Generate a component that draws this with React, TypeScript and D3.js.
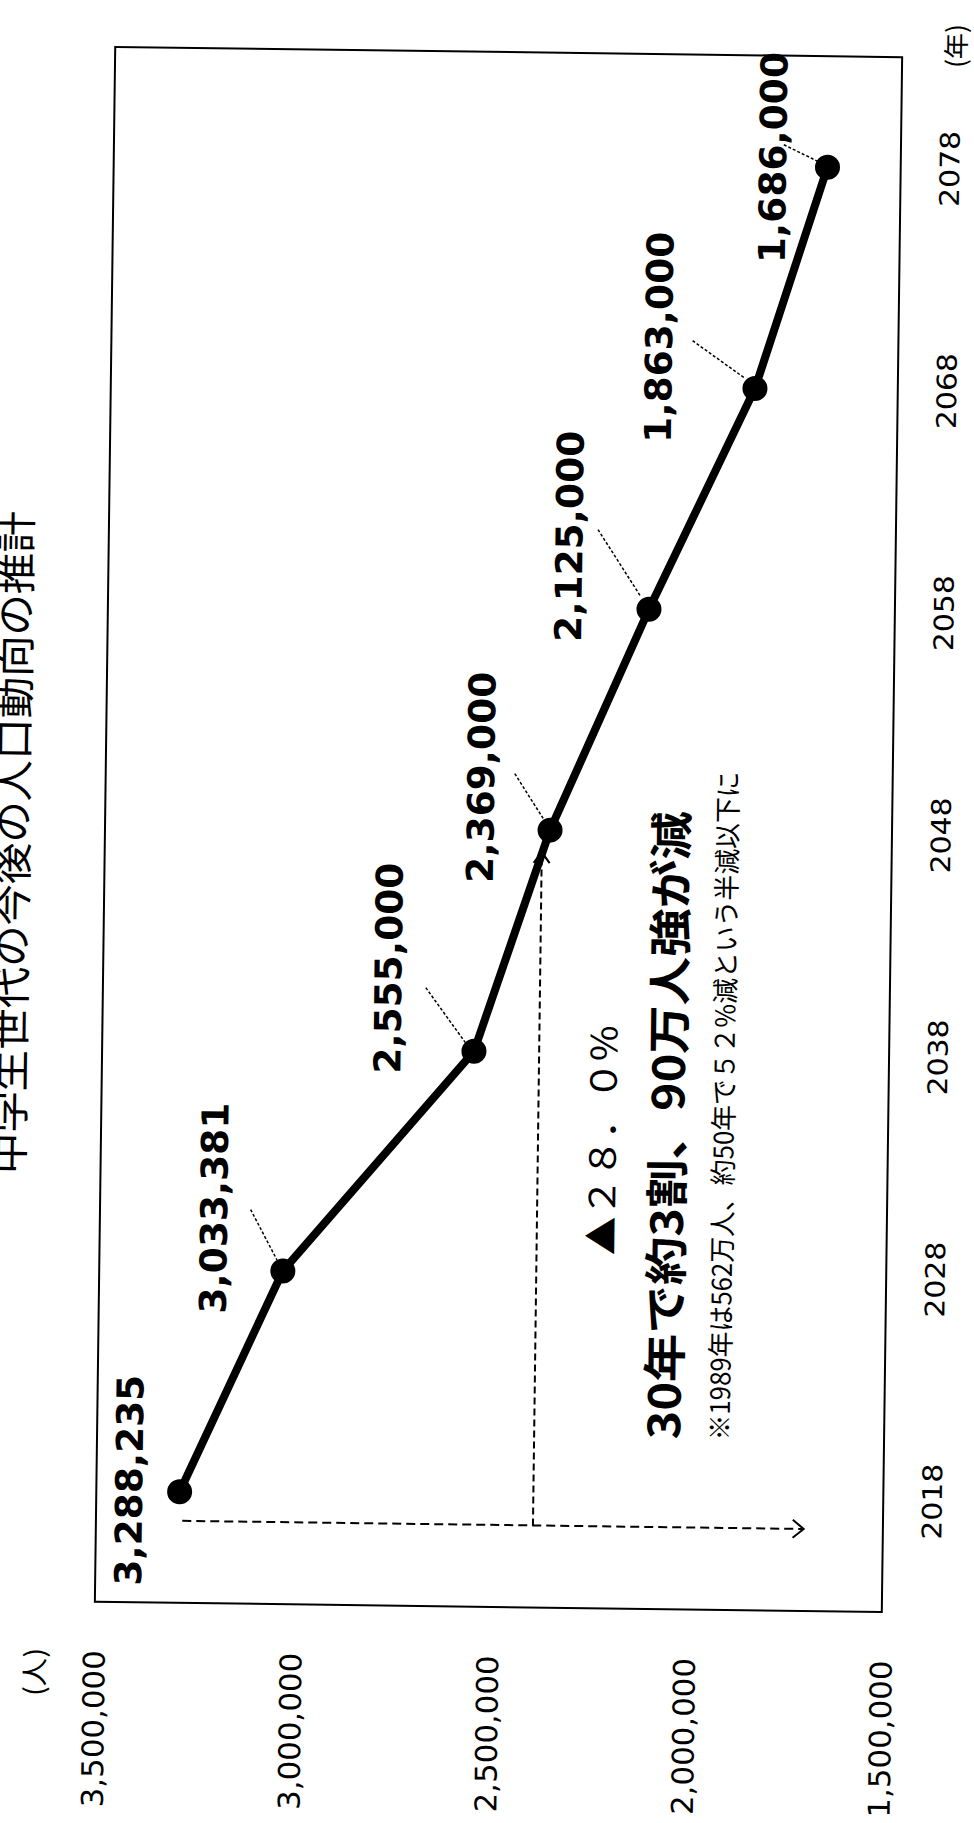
import React from "react";
import * as d3 from "d3";

const years = [2018, 2028, 2038, 2048, 2058, 2068, 2078];
const values = [3288235, 3033381, 2555000, 2369000, 2125000, 1863000, 1686000];
const valueLabels = ["3,288,235", "3,033,381", "2,555,000", "2,369,000", "2,125,000", "1,863,000", "1,686,000"];
const valueTicks = [3500000, 3000000, 2500000, 2000000, 1500000];
const titleText = "中学生世代の今後の人口動向の推計";
const yUnit = "(人)";
const xUnit = "(年)";
const noteRate = "▲２８．０%";
const noteMain = "30年で約3割、90万人強が減";
const noteSub = "※1989年は562万人、約50年で５２%減という半減以下に";

// layout: label centre offsets from each point, and leader line offsets [x1,y1,x2,y2]
const labelOffsets = [[-50, -11], [-69, -62], [-86, -82], [-69, -52], [-80, -72], [-96, -50], [-54, -9]];
const leaderOffsets = [null, [-33, -61, -6, -11], [-49, -63, -9, -9], [-36, -56, -6, -10], [-52, -79, -8, -12], [-63, -47, -10, -10], [-44, -22, -8, -5]];

const W = 974;
const H = 1823;
const frame = { left: 105, right: 892, top: 52, bottom: 1607 };
const jp = "'Noto Sans CJK JP', sans-serif";
const latin = "'DejaVu Sans', Verdana, sans-serif";

function VText({ x, y, size, weight = 400, family, len, children }: any) {
  return (
    <text
      transform={`translate(${x},${y}) rotate(-90)`}
      textAnchor="middle"
      dominantBaseline="central"
      fontSize={size}
      fontWeight={weight}
      fontFamily={family}
      textLength={len}
      lengthAdjust={len ? "spacingAndGlyphs" : undefined}
      fill="#000"
    >
      {children}
    </text>
  );
}

export default function App() {
  const xScale = d3.scaleLinear().domain([3500000, 1500000]).range([frame.left, frame.right]);
  const yScale = d3.scalePoint<number>().domain(years).range([frame.bottom, frame.top]).padding(0.5);
  const pts = years.map((yr, i) => ({ x: xScale(values[i]), y: yScale(yr) as number }));
  const line = d3
    .line<{ x: number; y: number }>()
    .x((d) => d.x)
    .y((d) => d.y);

  const hy = (yScale(years[0]) as number) + 29;
  const hx1 = xScale(values[0]) + 3;
  const hx2 = xScale(values[values.length - 1]) - 6;
  const vx = xScale(values[3]) - 8;
  const vy2 = (yScale(years[3]) as number) + 22;

  return (
    <svg
      width={W}
      height={H}
      viewBox={`0 0 ${W} ${H}`}
      style={{ position: "absolute", left: 0, top: 0, background: "#fff" }}
    >
      <rect x={0} y={0} width={W} height={H} fill="#fff" />
      <g transform="rotate(0.75, 500, 830)">
        {/* title, partly cut at the left edge as in the scan */}
        <VText x={10} y={849} size={41} family={jp} len={663}>
          {titleText}
        </VText>

        {/* frame */}
        <rect
          x={frame.left}
          y={frame.top}
          width={frame.right - frame.left}
          height={frame.bottom - frame.top}
          fill="none"
          stroke="#000"
          strokeWidth={2}
        />

        {/* value axis tick labels */}
        {valueTicks.map((v) => (
          <VText key={v} x={xScale(v)} y={1734} size={30} family={latin} len={157}>
            {d3.format(",")(v)}
          </VText>
        ))}
        <VText x={44} y={1678} size={27} family={jp} len={48}>
          {yUnit}
        </VText>

        {/* year labels */}
        {years.map((yr) => (
          <VText key={yr} x={941} y={yScale(yr) as number} size={27} family={latin} len={76}>
            {String(yr)}
          </VText>
        ))}
        <VText x={944} y={40} size={26} family={jp} len={44}>
          {xUnit}
        </VText>

        {/* dashed arrows */}
        <line x1={hx1} y1={hy} x2={hx2} y2={hy} stroke="#000" strokeWidth={2} strokeDasharray="9,5" />
        <polyline
          points={`${hx2 - 11},${hy - 9} ${hx2},${hy} ${hx2 - 11},${hy + 9}`}
          fill="none"
          stroke="#000"
          strokeWidth={2}
        />
        <line x1={vx} y1={hy} x2={vx} y2={vy2} stroke="#000" strokeWidth={2} strokeDasharray="7,4" />
        <polyline
          points={`${vx - 8},${vy2 + 11} ${vx},${vy2} ${vx + 8},${vy2 + 11}`}
          fill="none"
          stroke="#000"
          strokeWidth={2}
        />

        {/* leader lines */}
        {pts.map((p, i) => {
          const o = leaderOffsets[i];
          if (!o) return null;
          return (
            <line
              key={"ld" + i}
              x1={p.x + o[0]}
              y1={p.y + o[1]}
              x2={p.x + o[2]}
              y2={p.y + o[3]}
              stroke="#000"
              strokeWidth={1.5}
              strokeDasharray="3,2"
            />
          );
        })}

        {/* series line and markers */}
        <path d={line(pts) || ""} fill="none" stroke="#000" strokeWidth={8} strokeLinejoin="round" />
        {pts.map((p, i) => (
          <circle key={"c" + i} cx={p.x} cy={p.y} r={12.5} fill="#000" />
        ))}

        {/* data labels */}
        {pts.map((p, i) => (
          <VText
            key={"lb" + i}
            x={p.x + labelOffsets[i][0]}
            y={p.y + labelOffsets[i][1]}
            size={37}
            weight={700}
            family={latin}
            len={211}
          >
            {valueLabels[i]}
          </VText>
        ))}

        {/* annotations */}
        <VText x={604} y={1139} size={36} family={jp} len={230}>
          {noteRate}
        </VText>
        <VText x={669} y={1123} size={44} weight={700} family={jp} len={628}>
          {noteMain}
        </VText>
        <VText x={726} y={1103} size={27} family={jp} len={669}>
          {noteSub}
        </VText>
      </g>
    </svg>
  );
}
